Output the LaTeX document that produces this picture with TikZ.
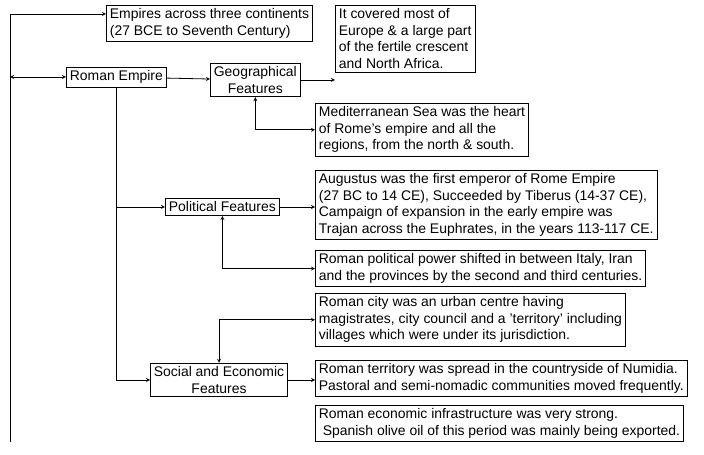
\documentclass[tikz,border=0pt]{standalone}
\usepackage{fontspec}
\setmainfont{Liberation Sans}
\usetikzlibrary{positioning}
\begin{document}
\begin{tikzpicture}[x=1bp,y=-1bp]
    \tikzstyle{arrow} = [thick, ->, >= stealth]
    \tikzstyle{darrow} = [thick, <->, >= stealth]
    \tikzstyle{box} = [draw = black, thick, align = left, font=\fontsize{14}{16.5}\selectfont, inner sep=3.5pt]
    \useasboundingbox (0,0) rectangle (704,455);

    \node[box, anchor=north west](Emp) at (106,5){Empires across three continents\\ (27 BCE to Seventh Century)};
    \node[box, anchor=west](Rome) at (66,77){Roman Empire};
    \node[box, anchor=west, align=center](Geo) at (210,80){Geographical\\ Features};
    \node[box, anchor=north west](Cov) at (335,5){It covered most of\\ Europe \& a large part\\ of the fertile crescent\\ and North Africa.};
    \node[box, anchor=north west](Med) at (315,103){Mediterranean Sea was the heart\\ of Rome's empire and all the\\ regions, from the north \& south.};
    \node[box, anchor=west](Pol) at (165,207){Political Features};
    \node[box, anchor=north west](Aug) at (315,170){Augustus was the first emperor of Rome Empire\\ (27 BC to 14 CE), Succeeded by Tiberus (14-37 CE),\\ Campaign of expansion in the early empire was\\ Trajan across the Euphrates, in the years 113-117 CE.};
    \node[box, anchor=north west](Pow) at (315,250){Roman political power shifted in between Italy, Iran\\ and the provinces by the second and third centuries.};
    \node[box, anchor=north west](City) at (315,293){Roman city was an urban centre having\\ magistrates, city council and a 'territory' including\\ villages which were under its jurisdiction.};
    \node[box, anchor=west, align=center](Soc) at (150,380){Social and Economic\\ Features};
    \node[box, anchor=north west](Ter) at (315,360){Roman territory was spread in the countryside of Numidia.\\ Pastoral and semi-nomadic communities moved frequently.};
    \node[box, anchor=north west](Eco) at (315,405){Roman economic infrastructure was very strong.\\ \ Spanish olive oil of this period was mainly being exported.};

    \coordinate (Top) at (10,14);
    \coordinate (Bot) at (10,442);
    \coordinate (Left) at (10,77);
    \draw[thick](Bot)--(Top);
    \draw[arrow](Top)--(Top -| Emp.west);
    \draw[darrow](Left)--(Rome.west);
    \draw[arrow](Rome)--(Geo);
    \draw[arrow](Geo.east)--(Geo.east -| Cov.west);
    \draw[darrow](Geo.south)|-(Med.west);
    \coordinate (Trunk) at (Rome.south);
    \draw[thick](Trunk)--(Trunk |- Soc.west);
    \draw[arrow](Trunk |- Pol.west)--(Pol.west);
    \draw[arrow](Trunk |- Soc.west)--(Soc.west);
    \draw[arrow](Pol.east)--(Pol.east -| Aug.west);
    \draw[darrow](Pol.south)|-(Pow.west);
    \draw[darrow](Soc.north)|-(City.west);
    \draw[arrow](Soc.east)--(Soc.east -| Ter.west);
\end{tikzpicture}
\end{document}
